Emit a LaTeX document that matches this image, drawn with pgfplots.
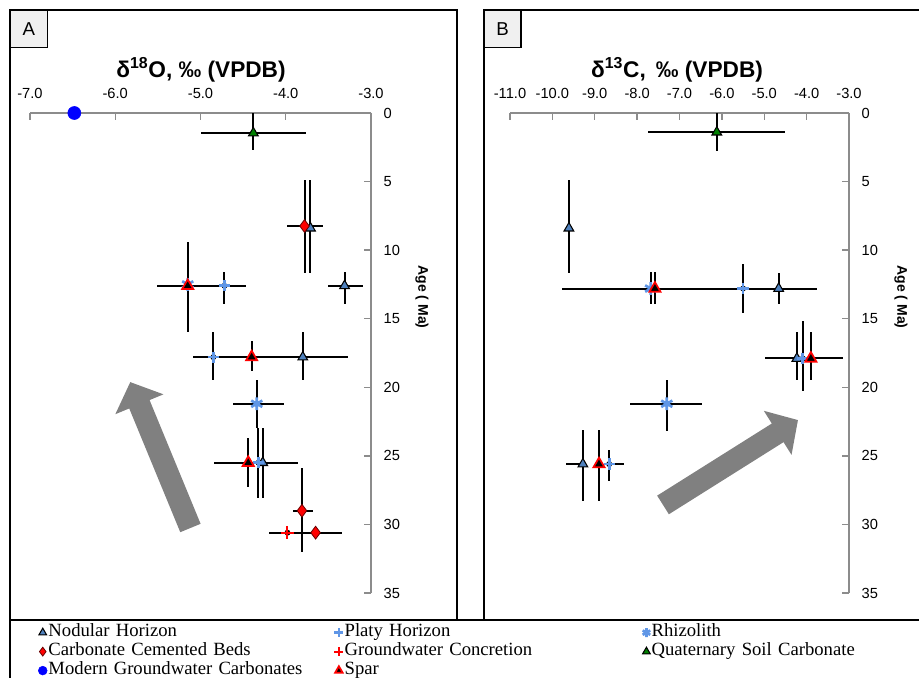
\documentclass[border=0pt]{standalone}
\usepackage{pgfplots}
\usepackage{pgfplotstable}
\pgfplotsset{compat=1.18}
\usepackage{fontspec}
\setmainfont{Liberation Serif}
\newfontfamily\arial{Liberation Sans}
\usetikzlibrary{arrows.meta}

\definecolor{nodblue}{RGB}{79,129,189}
\definecolor{platyblue}{RGB}{95,150,230}
\definecolor{qgreen}{RGB}{0,128,0}
\definecolor{axgray}{RGB}{140,140,140}
\definecolor{arrowgray}{RGB}{128,128,128}

% ---------------- Panel A (d18O) ----------------
\pgfplotstableread{
x y exp exm eyp eym
-3.71 8.4 0 0 3.3 3.5
-3.31 12.6 0.22 0.19 1.3 1.0
-3.80 17.8 0.53 0.60 1.7 1.8
-4.27 25.5 0.41 0.30 2.6 2.5
}\nodA
\pgfplotstableread{
x y exp exm eyp eym
-4.72 12.6 0.25 0.25 1.3 1.0
-4.85 17.8 0.24 0.24 1.7 1.8
-4.32 25.5 0 0 2.6 2.5
}\platyA
\pgfplotstableread{
x y exp exm eyp eym
-5.15 12.5 0 0 0 0
-4.34 21.2 0.32 0.28 1.8 1.7
}\rhizA
\pgfplotstableread{
x y exp exm eyp eym
-3.78 8.24 0.22 0.20 3.46 3.34
-3.81 29.0 0.13 0.10 3.0 3.1
-3.65 30.6 0.31 0.55 0 0
}\carbA
\pgfplotstableread{
x y exp exm eyp eym
-3.98 30.6 0 0 0 0
}\gwcA
\pgfplotstableread{
x y exp exm eyp eym
-4.38 1.46 0.62 0.62 1.24 1.46
}\quatA
\pgfplotstableread{
x y exp exm eyp eym
-6.48 0 0 0 0 0
}\modA
\pgfplotstableread{
x y exp exm eyp eym
-5.15 12.6 0.36 0.36 3.4 3.2
-4.40 17.8 0.50 0.50 1.0 1.2
-4.44 25.5 0.40 0.40 1.8 1.8
}\sparA

% ---------------- Panel B (d13C) ----------------
\pgfplotstableread{
x y exp exm eyp eym
-9.61 8.4 0 0 3.3 3.5
-4.66 12.8 0 0 1.1 1.1
-4.23 17.9 0 0.76 1.6 1.9
-9.28 25.6 0 0.40 2.7 2.5
}\nodB
\pgfplotstableread{
x y exp exm eyp eym
-5.50 12.8 0 0 1.8 1.8
-4.09 17.9 0 0 2.4 2.7
-8.66 25.6 0.35 0 1.2 1.0
}\platyB
\pgfplotstableread{
x y exp exm eyp eym
-7.68 12.8 3.92 2.09 1.1 1.2
-7.30 21.2 0.83 0.87 2.0 1.7
}\rhizB
\pgfplotstableread{
x y exp exm eyp eym
-6.12 1.4 1.61 1.63 1.4 1.4
}\quatB
\pgfplotstableread{
x y exp exm eyp eym
-7.58 12.8 0 0 1.1 1.2
-3.90 17.9 0.75 0 1.6 1.9
-8.90 25.6 0 0 2.7 2.5
}\sparB

\pgfplotsset{
  panel/.style={
    scale only axis, clip=false,
    height=360pt,
    y dir=reverse, ymin=0, ymax=35,
    ytick={0,5,...,35},
    axis x line*=top, axis y line*=right,
    axis line style={axgray, line width=1.2pt},
    every tick/.style={axgray, line width=1pt},
    major tick length=5pt,
    tick align=inside,
    /pgf/number format/assume math mode=true,
    xticklabel={\pgfmathprintnumber[fixed,fixed zerofill,precision=1]{\tick}},
    tick label style={font=\arial\fontsize{11}{12}\selectfont},
    x tick label style={yshift=7pt},
    y tick label style={xshift=6pt},
    legend image code/.code={\draw[mark repeat=2,mark phase=2] plot coordinates {(0pt,0pt)(5pt,0pt)(10pt,0pt)};},
    legend image post style={mark size=3.3pt},
  },
  ebars/.style={only marks, mark=none, forget plot,
    error bars/.cd, x dir=both, x explicit, y dir=both, y explicit,
    error bar style={draw=black, line width=1.5pt}, error mark=none},
  nod/.style={only marks, mark=triangle*, mark size=4.2pt, mark options={fill=nodblue, draw=black, line width=0.8pt}},
  platy/.style={only marks, mark=+, mark size=4.2pt, mark options={draw=platyblue, line width=2pt}},
  rhiz/.style={only marks, mark=asterisk, mark size=4.8pt, mark options={draw=platyblue, line width=2pt}},
  carb/.style={only marks, mark=diamond*, mark size=4.8pt, mark options={fill=red, draw=black!60!red, line width=0.6pt}},
  gwc/.style={only marks, mark=+, mark size=5pt, mark options={draw=red, line width=1.5pt}},
  quat/.style={only marks, mark=triangle*, mark size=4.2pt, mark options={fill=qgreen, draw=black, line width=0.8pt}},
  modern/.style={only marks, mark=*, mark size=4.9pt, mark options={fill=blue, draw=blue}},
  spar/.style={only marks, mark=triangle*, mark size=4.8pt, mark options={fill=black, draw=red, line width=1.3pt}},
}
\newcommand{\EB}[1]{\addplot[ebars] table[x=x,y=y,x error plus=exp,x error minus=exm,y error plus=eyp,y error minus=eym]{#1};}
\newcommand{\MK}[2]{\addplot[#1] table[x=x,y=y]{#2};}

\begin{document}
\begin{tikzpicture}
\useasboundingbox (0,0) rectangle (689.25pt,507.75pt);

% ---------- Panel A ----------
\begin{axis}[panel,
  at={(150.375pt,243pt)}, anchor=center,
  width=255.75pt,
  xmin=-7, xmax=-3, xtick={-7,-6,...,-3},
  legend columns=3, legend cell align=left,
  legend style={at={(axis description cs:0.012,-0.058)}, anchor=north west,
    draw=none, fill=none, font=\fontsize{14}{14}\selectfont,
    nodes={inner sep=0pt, text width=213.5pt, text height=9.75pt, text depth=3.5pt},
    column sep=1pt, row sep=1pt,
    /tikz/column 4/.style={column sep=10pt}},
]
\draw[arrowgray, line width=16.5pt, -{Triangle[length=18pt,width=38pt]}] (axis cs:-5.118,30.26) -- (axis cs:-5.824,19.62);
\EB{\nodA}\EB{\platyA}\EB{\rhizA}\EB{\carbA}\EB{\gwcA}\EB{\quatA}\EB{\modA}\EB{\sparA}
\MK{nod}{\nodA}\addlegendentry{Nodular Horizon}
\MK{platy}{\platyA}\addlegendentry{Platy Horizon}
\MK{rhiz}{\rhizA}\addlegendentry{Rhizolith}
\MK{carb}{\carbA}\addlegendentry{Carbonate Cemented Beds}
\MK{gwc}{\gwcA}\addlegendentry{Groundwater Concretion}
\MK{quat}{\quatA}\addlegendentry{Quaternary Soil Carbonate}
\MK{modern}{\modA}\addlegendentry{Modern Groundwater Carbonates}
\MK{spar}{\sparA}\addlegendentry{Spar}
\end{axis}

% ---------- Panel B ----------
\begin{axis}[panel,
  at={(509.625pt,243pt)}, anchor=center,
  width=254.25pt,
  xmin=-11, xmax=-3, xtick={-11,-10,...,-3},
]
\draw[arrowgray, line width=16.5pt, -{Triangle[length=18pt,width=38pt]}] (axis cs:-7.389,28.58) -- (axis cs:-4.204,22.39);
\EB{\nodB}\EB{\platyB}\EB{\rhizB}\EB{\quatB}\EB{\sparB}
\MK{nod}{\nodB}
\MK{platy}{\platyB}
\MK{rhiz}{\rhizB}
\MK{quat}{\quatB}
\MK{spar}{\sparB}
\end{axis}

% ---------- frames and annotations (pixel coordinates) ----------
\begin{scope}[x=0.75pt, y=-0.75pt, yshift=507.75pt]
\draw[line width=1.1pt] (10,10) rectangle (457,620);
\draw[line width=1.1pt] (484,10) rectangle (930,620);
\draw[line width=1.1pt] (10,620) rectangle (930,700);
\draw[line width=1.1pt, fill=black!6] (10,10) rectangle (47.5,47.5);
\node[font=\arial\fontsize{14}{16}\selectfont] at (28.75,29) {A};
\draw[line width=1.1pt, fill=black!6] (484,10) rectangle (521,47.5);
\node[font=\arial\fontsize{14}{16}\selectfont] at (502.5,29) {B};
\node[font=\arial\bfseries\fontsize{17}{19}\selectfont] at (201,70) {δ\textsuperscript{18}O, ‰ (VPDB)};
\node[font=\arial\bfseries\fontsize{17}{19}\selectfont] at (677,70) {δ\textsuperscript{13}C,\ \,‰ (VPDB)};
\node[font=\arial\bfseries\fontsize{10.5}{12}\selectfont, rotate=-90] at (422,297) {Age ( Ma)};
\node[font=\arial\bfseries\fontsize{10.5}{12}\selectfont, rotate=-90] at (901,297) {Age ( Ma)};
\end{scope}
\end{tikzpicture}
\end{document}
